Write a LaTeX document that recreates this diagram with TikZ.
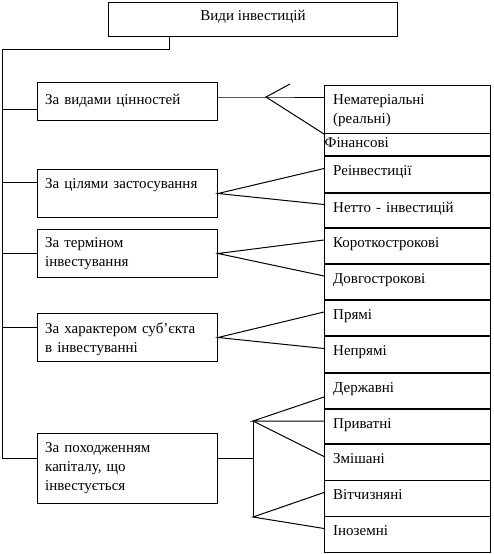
\documentclass[tikz,border=0pt]{standalone}
\usepackage{fontspec}
\setmainfont{Liberation Serif}
\tikzset{
 link/.style={line width=1pt},
 kindbox/.style={rectangle,draw,line width=1pt,anchor=north west,inner sep=0},
 kindtext/.style={anchor=base west,inner sep=0,align=left,text width=160pt,font=\fontsize{15}{19}\selectfont},
 headtext/.style={anchor=base,inner sep=0,font=\fontsize{15}{19}\selectfont}
}

\begin{document}
\begin{tikzpicture}[x=1pt,y=-1pt]
\path[use as bounding box] (0,0) rectangle (494,554);
% head
\node[kindbox,minimum width=289pt,minimum height=34pt] (top) at (108,2) {};
\node[headtext] (topt) at ([yshift=-18pt]top.north) {Види інвестицій};
% left column
\node[kindbox,minimum width=180pt,minimum height=38pt] (v1) at (37,82) {};
\node[kindtext] (vt1) at ([xshift=8pt,yshift=-22pt]v1.north west) {За видами цінностей};
\node[kindbox,minimum width=180pt,minimum height=48pt] (v2) at (37,169) {};
\node[kindtext] (vt2) at ([xshift=8pt,yshift=-19pt]v2.north west) {За цілями застосування};
\node[kindbox,minimum width=180pt,minimum height=48pt] (v3) at (37,229) {};
\node[kindtext] (vt3) at ([xshift=8pt,yshift=-18pt]v3.north west) {За терміном\\інвестування};
\node[kindbox,minimum width=180pt,minimum height=48pt] (v4) at (37,313) {};
\node[kindtext] (vt4) at ([xshift=8pt,yshift=-20pt]v4.north west) {За характером суб’єкта\\в інвестуванні};
\node[kindbox,minimum width=180pt,minimum height=70pt] (v5) at (37,433) {};
\node[kindtext] (vt5) at ([xshift=8pt,yshift=-19pt]v5.north west) {За походженням\\капіталу, що\\інвестується};
% right column
\foreach \n/\y/\h/\txt in {1/85/48/{Нематеріальні\\(реальні)},3/156/36/Реінвестиції,
  4/193/34/Нетто - інвестицій,5/228/35/Короткострокові,6/264/35/Довгострокові,
  7/300/35/Прямі,8/336/36/Непрямі,9/373/35/Державні,10/409/34/Приватні,
  11/444/36/Змішані,12/480/36/Вітчизняні,13/516/36/Іноземні}
{
 \node[kindbox,minimum width=166pt,minimum height=\h pt] (r\n) at (324,\y) {};
 \node[kindtext] (rt\n) at ([xshift=9pt,yshift=-19pt]r\n.north west) {\txt};
}
\node[kindbox,minimum width=166pt,minimum height=22pt] (r2) at (324,133) {};
\node[kindtext] (rt2) at ([xshift=0.5pt,yshift=-14pt]r2.north west) {Фінансові};
% trunk
\coordinate (bend) at (2,49);
\coordinate (j1) at (2,109);
\coordinate (j2) at (2,182);
\coordinate (j3) at (2,253);
\coordinate (j4) at (2,327);
\coordinate (j5) at (2,458);
\draw[link] ([xshift=61pt]top.south west) |- (bend) -- (j5);
\foreach \i in {1,...,5}
 \draw[link] (j\i) -- (j\i -| v\i.west);
% fans
\coordinate (f1) at (266,97);
\coordinate (f1s) at (290,84);
\draw[link] (f1 -| v1.east) -- (f1) -- (f1 -| r1.west);
\draw[link] (f1s) -- (f1) -- (r1.south west);
\draw[link] ([yshift=6pt]r3.west) -- (v2.east) -- ([yshift=6pt]r4.west);
\draw[link] ([yshift=6pt]r5.west) -- (v3.east) -- ([yshift=6pt]r6.west);
\draw[link] ([yshift=6pt]r7.west) -- (v4.east) -- ([yshift=6pt]r8.west);
\coordinate (f5a) at (253,421);
\coordinate (f5b) at (253,517);
\draw[link] (j5 -| v5.east) -- (j5 -| f5a);
\draw[link] (f5a) -- (f5b);
\draw[link] ([yshift=-6pt]r9.west) -- (f5a) -- (f5a -| r10.west);
\draw[link] (f5a) -- ([yshift=6pt]r11.west);
\draw[link] ([yshift=6pt]r12.west) -- (f5b) -- ([yshift=6pt]r13.west);
\end{tikzpicture}
\end{document}
